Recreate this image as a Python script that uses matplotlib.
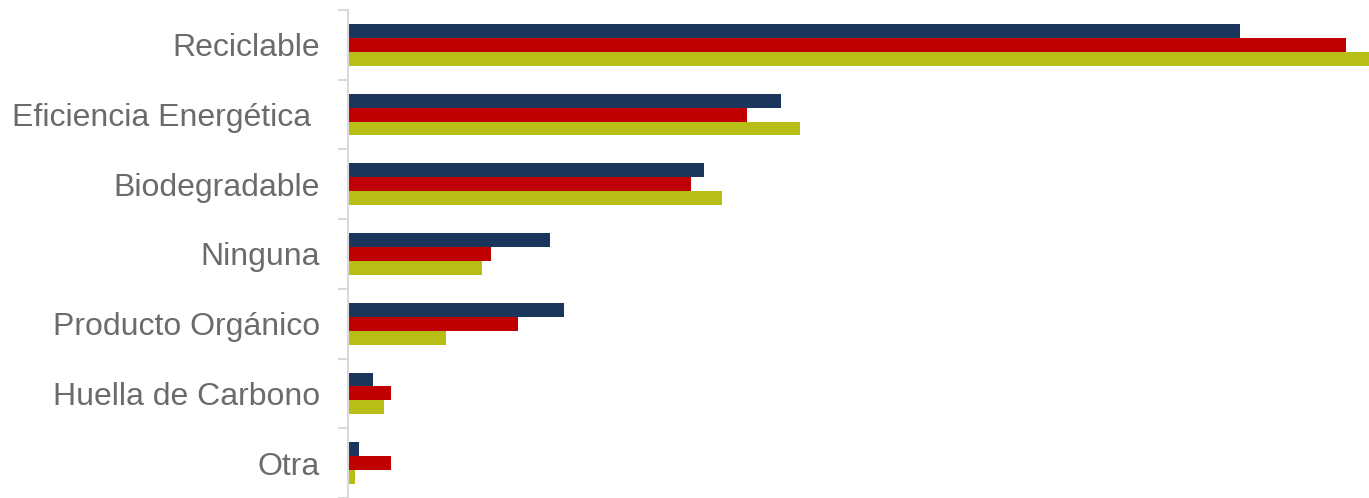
import numpy as np
import matplotlib.pyplot as plt

# Data (top to bottom as shown)
categories = ['Reciclable', 'Eficiencia Energética ', 'Biodegradable', 'Ninguna',
              'Producto Orgánico', 'Huella de Carbono', 'Otra']
serie_1 = [39.3, 19.1, 15.7, 8.9, 9.5, 1.1, 0.5]
serie_2 = [44.0, 17.6, 15.1, 6.3, 7.5, 1.9, 1.9]
serie_3 = [45.0, 19.9, 16.5, 5.9, 4.3, 1.6, 0.3]

colors = ['#1b365d', '#c00000', '#b7bf16']

plt.rcParams['font.family'] = ['Liberation Sans', 'DejaVu Sans']

fig = plt.figure(figsize=(13.69, 4.98), dpi=100)
ax = fig.add_axes([348 / 1369, 0, 1021 / 1369, 488 / 498])

n = len(categories)
y = np.arange(n)[::-1]
h = 0.2
for vals, off, c in zip([serie_1, serie_2, serie_3], [h, 0, -h], colors):
    ax.barh(y + off, vals, height=h, color=c)

ax.set_xlim(0, 45)
ax.set_ylim(-0.5 + 2 / 70, n - 0.5)

# tick marks at category boundaries, labels at centers
ax.set_yticks(np.arange(n + 1) - 0.5)
ax.set_yticklabels([])
ax.tick_params(axis='y', which='major', length=7.2, width=1.5, color='#d9d9d9')
ax.set_yticks(y, minor=True)
ax.set_yticklabels(categories, minor=True, fontsize=23, color='#6b6b6b')
ax.tick_params(axis='y', which='minor', length=0, pad=20)

ax.set_xticks([])
for s in ['top', 'right', 'bottom']:
    ax.spines[s].set_visible(False)
ax.spines['left'].set_color('#d9d9d9')
ax.spines['left'].set_linewidth(1.5)

fig.savefig('out.png', dpi=100)
